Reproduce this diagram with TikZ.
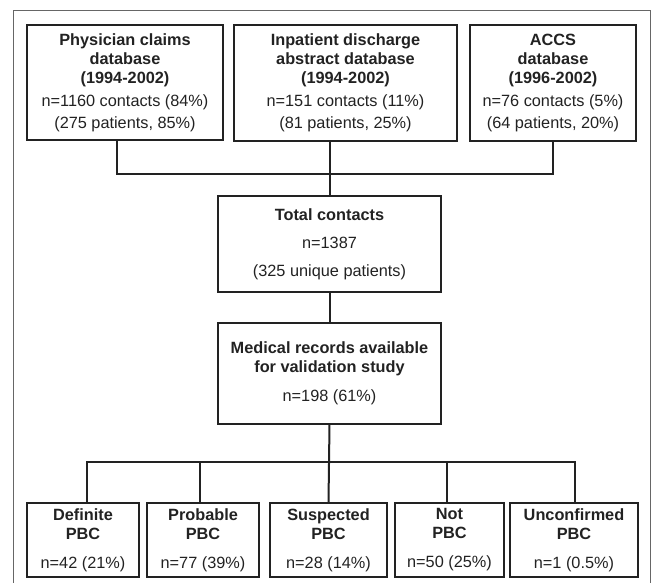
\documentclass[tikz,border=0pt]{standalone}
\usepackage{fontspec}
\setmainfont{Liberation Sans}
\usetikzlibrary{calc}
\definecolor{ink}{HTML}{222222}
\definecolor{framec}{HTML}{666666}
\begin{document}
\begin{tikzpicture}[x=1pt,y=-1pt,
  boxn/.style={draw=ink,line width=1.4pt,rectangle,inner sep=0pt,align=center,text=ink,
    font=\fontsize{16.3}{19}\selectfont},
  link/.style={draw=ink,line width=2pt},
  framel/.style={draw=framec,line width=1pt}]
\useasboundingbox (0,0) rectangle (654,583);
\draw[framel] (13,590) -- (13,11) -- (650,11) -- (650,590);

\node[boxn,minimum width=196pt,minimum height=115pt] (box1) at (125,82.5)
  {\textbf{Physician claims}\\\textbf{database}\\\textbf{(1994-2002)}\\[4pt]n=1160 contacts (84\%)\\[3pt](275 patients, 85\%)};
\node[boxn,minimum width=223pt,minimum height=116pt] (box2) at (345.5,83)
  {\textbf{Inpatient discharge}\\\textbf{abstract database}\\\textbf{(1994-2002)}\\[4pt]n=151 contacts (11\%)\\[3pt](81 patients, 25\%)};
\node[boxn,minimum width=166pt,minimum height=116pt] (box3) at (553,83)
  {\textbf{ACCS}\\\textbf{database}\\\textbf{(1996-2002)}\\[4pt]n=76 contacts (5\%)\\[3pt](64 patients, 20\%)};

\node[boxn,minimum width=223pt,minimum height=96pt] (total) at (329.5,244)
  {\textbf{Total contacts}\\[9pt]n=1387\\[9pt](325 unique patients)};
\node[boxn,minimum width=223pt,minimum height=101pt] (med) at (329.5,373.5)
  {\textbf{Medical records available}\\\textbf{for validation study}\\[10pt]n=198 (61\%)};

\node[boxn,minimum width=112pt,minimum height=74pt] (b1) at (83,540)
  {\textbf{Definite}\\\textbf{PBC}\\[10pt]n=42 (21\%)};
\node[boxn,minimum width=112pt,minimum height=74pt] (b2) at (203,540)
  {\textbf{Probable}\\\textbf{PBC}\\[10pt]n=77 (39\%)};
\node[boxn,minimum width=117pt,minimum height=74pt] (b3) at (328.5,540)
  {\textbf{Suspected}\\\textbf{PBC}\\[10pt]n=28 (14\%)};
\node[boxn,minimum width=109pt,minimum height=74pt] (b4) at (449.5,540)
  {\textbf{Not}\\\textbf{PBC}\\[10pt]n=50 (25\%)};
\node[boxn,minimum width=128pt,minimum height=74pt] (b5) at (574,540)
  {\textbf{Unconfirmed}\\\textbf{PBC}\\[10pt]n=1 (0.5\%)};

% top connectors
\draw[link] ($(box1.south)+(-8,0)$) -- ++(0,33) -| (box3.south);
\draw[link] (box2.south -| total.north) -- (total.north);
\draw[link] (total.south) -- (med.north);
% bottom connectors
\draw[link] (med.south) -- (b3.north);
\draw[link] ($(b1.north)+(4,0)$) -- ++(0,-40) -| ($(b5.north)+(1,0)$);
\draw[link] ($(b2.north)+(-3,0)$) -- ++(0,-40);
\draw[link] ($(b4.north)+(-2.5,0)$) -- ++(0,-40);
\end{tikzpicture}
\end{document}
